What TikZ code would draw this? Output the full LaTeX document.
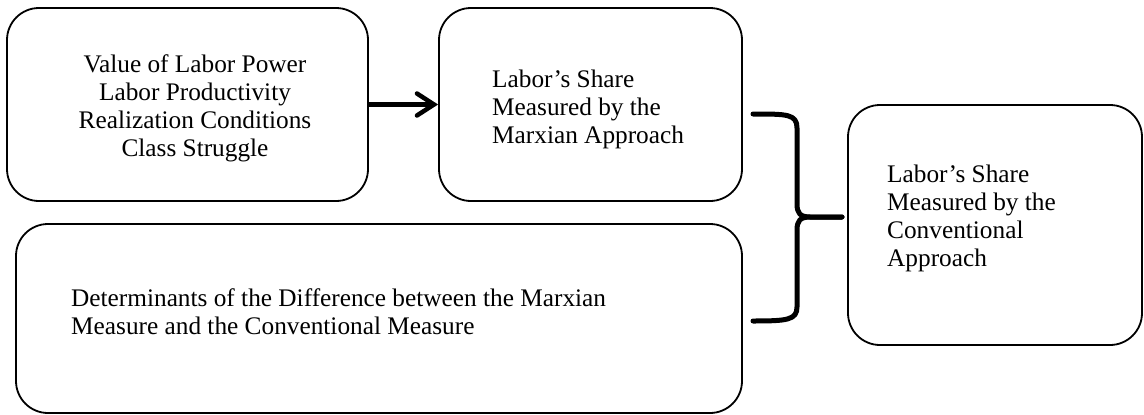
\documentclass[tikz,border=0pt]{standalone}
\usepackage{fontspec}
\setmainfont{Liberation Serif}
\usetikzlibrary{arrows.meta}
\tikzset{
  box/.style={draw, line width=1.8pt, rounded corners=32pt, inner sep=0pt, minimum width=#1},
  txt/.style={inner sep=0pt, font=\fontsize{25.3}{28}\selectfont},
  bracepath/.style={line width=5pt, line cap=round, line join=round},
}
\begin{document}
\begin{tikzpicture}[x=1pt,y=-1pt]
\useasboundingbox (0,0) rectangle (1144,415);
\node[box=361pt, minimum height=193pt] (B1) at (187.5,104.5) {};
\node[box=303pt, minimum height=193pt] (B2) at (590.5,104.5) {};
\node[box=726pt, minimum height=189pt] (B3) at (379,318.5) {};
\node[box=294pt, minimum height=240pt] (B4) at (995,225) {};

\node[txt, align=center, anchor=north] (T1) at (195,54.7) {Value of Labor Power\\Labor Productivity\\Realization Conditions\\Class Struggle};
\node[txt, align=left, anchor=north west] (T2) at (492,69.7) {Labor’s Share\\Measured by the\\Marxian Approach};
\node[txt, align=left, anchor=north west] (T3) at (71,288.7) {Determinants of the Difference between the Marxian\\Measure and the Conventional Measure};
\node[txt, align=left, anchor=north west] (T4) at (887,164.7) {Labor’s Share\\Measured by the\\Conventional\\Approach};

\draw[line width=4.5pt, -{Straight Barb[length=17pt,width=22pt,line width=0pt 1,line cap=round]}] (B1.east) -- (B2.west);

\coordinate (bt) at (753,114);
\coordinate (bb) at (753,321);
\coordinate (tip) at (842,217);
\draw[bracepath] (bt) .. controls (787,114) and (797,114) .. (797,128) -- (797,204)
  .. controls (797,213) and (800,217) .. (810,217) -- (tip);
\draw[bracepath] (tip) -- (810,217) .. controls (800,217) and (797,221) .. (797,230)
  -- (797,307) .. controls (797,320) and (787,321) .. (bb);
\end{tikzpicture}
\end{document}
